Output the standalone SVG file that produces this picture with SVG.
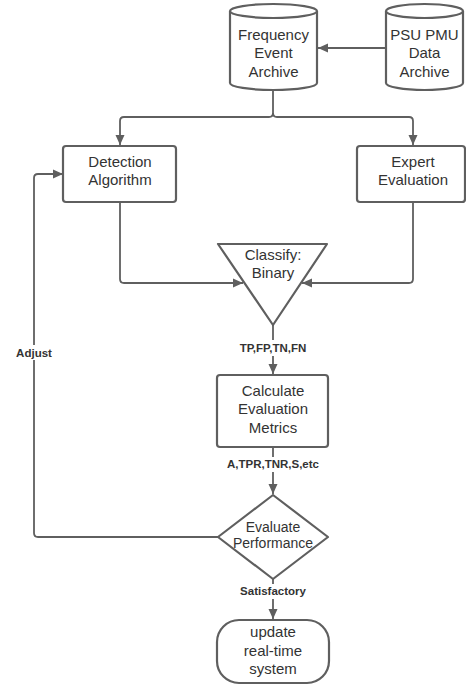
<svg xmlns="http://www.w3.org/2000/svg" width="466" height="686" viewBox="0 0 466 686">
<defs>
<marker id="ah" markerWidth="10" markerHeight="10" refX="10" refY="5" orient="auto" markerUnits="userSpaceOnUse"><path d="M0,0.5 L10,5 L0,9.5 Z" fill="#5f5f5f"/></marker>
<style>
.s{fill:#fff;stroke:#5f5f5f;stroke-width:2.2;stroke-linejoin:round}
.c{fill:none;stroke:#5f5f5f;stroke-width:1.8}
.t{font-family:"Liberation Sans",Arial,sans-serif;font-size:15px;fill:#333;text-anchor:middle}
.p{font-size:14px}
.l{font-family:"Liberation Sans",Arial,sans-serif;font-size:11.5px;font-weight:bold;fill:#333;text-anchor:middle}
</style>
</defs>
<rect width="466" height="686" fill="#fff"/>
<g id="connectors">
<path class="c" d="M386,48 H318" marker-end="url(#ah)"/>
<path class="c" d="M273,90 V113 Q273,117 269,117 H124 Q120,117 120,121 V145" marker-end="url(#ah)"/>
<path class="c" d="M273,113 Q273,117 277,117 H409 Q413,117 413,121 V145" marker-end="url(#ah)"/>
<path class="c" d="M120,202 V279 Q120,283 124,283 H243" marker-end="url(#ah)"/>
<path class="c" d="M413,202 V279 Q413,283 409,283 H302" marker-end="url(#ah)"/>
<path class="c" d="M273,325 V374" marker-end="url(#ah)"/>
<path class="c" d="M273,447 V494" marker-end="url(#ah)"/>
<path class="c" d="M218,537 H38 Q34,537 34,533 V178 Q34,174 38,174 H63" marker-end="url(#ah)"/>
<path class="c" d="M273,579 V619" marker-end="url(#ah)"/>
<rect x="232" y="340" width="82" height="16" fill="#fff"/>
<text class="l" x="273" y="352">TP,FP,TN,FN</text>
<rect x="224" y="457" width="98" height="15" fill="#fff"/>
<text class="l" x="273" y="468">A,TPR,TNR,S,etc</text>
<rect x="14" y="345" width="42" height="15" fill="#fff"/>
<text class="l" x="34" y="357">Adjust</text>
<rect x="234" y="584" width="78" height="15" fill="#fff"/>
<text class="l" x="273" y="595">Satisfactory</text>
</g>
<g id="frequency">
<path class="s" d="M230,11 A43.5,7 0 0 1 317,11 V83 A43.5,7 0 0 1 230,83 Z"/>
<path class="s" fill="none" d="M230,11 A43.5,7 0 0 0 317,11"/>
<text class="t" x="273.5" y="40">Frequency</text>
<text class="t" x="273.5" y="58">Event</text>
<text class="t" x="273.5" y="77">Archive</text>
</g>
<g id="psu">
<path class="s" d="M386,11 A38.5,7 0 0 1 463,11 V83 A38.5,7 0 0 1 386,83 Z"/>
<path class="s" fill="none" d="M386,11 A38.5,7 0 0 0 463,11"/>
<text class="t" x="424.5" y="40">PSU PMU</text>
<text class="t" x="424.5" y="58">Data</text>
<text class="t" x="424.5" y="77">Archive</text>
</g>
<g id="detection">
<rect class="s" x="63" y="146" width="113" height="56" rx="3"/>
<text class="t" x="120" y="167">Detection</text>
<text class="t" x="120" y="185">Algorithm</text>
</g>
<g id="expert">
<rect class="s" x="357" y="146" width="108" height="56" rx="3"/>
<text class="t" x="413" y="167">Expert</text>
<text class="t" x="413" y="185">Evaluation</text>
</g>
<g id="classify">
<path class="s" d="M218,244 H327 L273,325 Z"/>
<text class="t" x="273" y="260">Classify:</text>
<text class="t" x="273" y="278">Binary</text>
</g>
<g id="calculate">
<rect class="s" x="217" y="375" width="111" height="72" rx="3"/>
<text class="t" x="273" y="396">Calculate</text>
<text class="t" x="273" y="414">Evaluation</text>
<text class="t" x="273" y="433">Metrics</text>
</g>
<g id="evaluate">
<path class="s" d="M273,495 L328,537 L273,579 L218,537 Z"/>
<text class="t p" x="273" y="532">Evaluate</text>
<text class="t p" x="273" y="548">Performance</text>
</g>
<g id="update">
<rect class="s" x="217" y="620" width="112" height="63" rx="22"/>
<text class="t" x="273" y="637">update</text>
<text class="t" x="273" y="656">real-time</text>
<text class="t" x="273" y="674">system</text>
</g>
</svg>
